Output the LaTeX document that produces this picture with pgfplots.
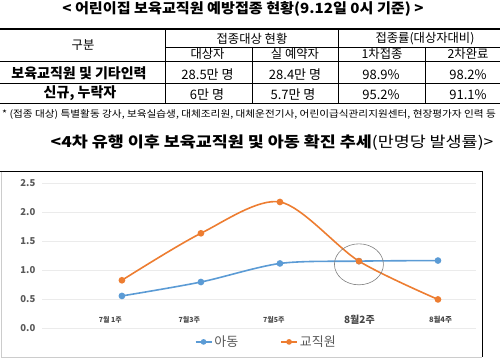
\documentclass[border=0pt]{standalone}
\usepackage{pgfplots}
\pgfplotsset{compat=1.18}
\usepackage{fontspec}
\setmainfont{Noto Sans CJK KR}
\definecolor{cblue}{HTML}{5B9BD5}
\definecolor{corange}{HTML}{ED7D31}
\definecolor{tgray}{HTML}{595959}
\begin{document}
\begin{tikzpicture}[x=1pt,y=1pt]
\useasboundingbox (0,0) rectangle (500,358);
% title
\node[font=\fontsize{14}{14}\selectfont\bfseries] at (243,349) {\scalebox{1.08}[1]{< 어린이집 보육교직원 예방접종 현황(9.12일 0시 기준) >}};
% table lines
\draw[line width=1.5pt] (0,329) -- (500,329);
\draw[line width=0.6pt] (165,311) -- (500,311);
\draw[line width=1pt] (0,296) -- (500,296);
\draw[line width=0.6pt] (0,274.5) -- (500,274.5);
\draw[line width=1.5pt] (0,254.5) -- (500,254.5);
\draw[line width=0.8pt] (165,329) -- (165,254.5);
\draw[line width=0.6pt] (338,329) -- (338,254.5);
\draw[line width=0.6pt] (252,311) -- (252,254.5);
\draw[line width=0.6pt] (425,311) -- (425,254.5);
% header
\begin{scope}[every node/.style={font=\fontsize{12.3}{12.3}\selectfont}]
\node at (83,312.5) {구분};
\node at (252,319.5) {접종대상 현황};
\node at (425,319.5) {접종률(대상자대비)};
\node at (207.5,304) {대상자};
\node at (295,304) {실 예약자};
\node at (382,304) {1차접종};
\node at (468,304) {2차완료};
\end{scope}
\node[font=\fontsize{14}{14}\selectfont\bfseries] at (79,284.5) {보육교직원 및 기타인력};
\node[font=\fontsize{14}{14}\selectfont\bfseries] at (80,264.5) {신규, 누락자};
\begin{scope}[every node/.style={font=\fontsize{13}{13}\selectfont}]
\node at (207.5,283.5) {28.5만 명};
\node at (295,283.5) {28.4만 명};
\node at (381,283.5) {98.9\%};
\node at (468,283.5) {98.2\%};
\node at (207,263.5) {6만 명};
\node at (293,263.5) {5.7만 명};
\node at (381,263.5) {95.2\%};
\node at (468,263.5) {91.1\%};
\end{scope}
% footnote
\node[font=\fontsize{9.5}{9.5}\selectfont] at (249,244) {\scalebox{1.12}[1]{* (접종 대상) 특별활동 강사, 보육실습생, 대체조리원, 대체운전기사, 어린이급식관리지원센터, 현장평가자 인력 등}};
% chart title
\node[font=\fontsize{15}{15}\selectfont] at (272,215) {\scalebox{1.16}[1]{\textbf{<4차 유행 이후 보육교직원 및 아동 확진 추세}(만명당 발생률)>}};
% chart frame
\draw[gray!40, line width=0.6pt] (1,187) -- (1,1) -- (482,1);
\draw[black, line width=0.9pt] (0,187) -- (482,187) -- (482,1);
\begin{axis}[at={(53,52)}, anchor=south west, scale only axis,
  width=434pt, height=145pt,
  xmin=-1.013, xmax=4.48, ymin=0, ymax=2.5,
  axis line style={draw=none}, major tick length=0pt,
  ytick={0,0.5,1,1.5,2,2.5},
  ymajorgrids, grid style={color=gray!16, line width=0.6pt},
  yticklabel style={/pgf/number format/.cd, fixed, fixed zerofill, precision=1, assume math mode=true, /tikz/.cd, font=\fontsize{9.5}{9.5}\selectfont\bfseries, text=tgray, anchor=east, xshift=-3pt},
  xtick={-0.146,0.854,1.924,3.006,4.032},
  xticklabels={{\fontsize{7}{7}\selectfont 7월 1주},{\fontsize{7}{7}\selectfont 7월3주},{\fontsize{7}{7}\selectfont 7월5주},{\fontsize{10}{10}\selectfont 8월2주},{\fontsize{7.5}{7.5}\selectfont 8월4주}},
  xticklabel style={font=\bfseries, text=tgray!80!black, anchor=center, yshift=8pt},
  legend style={at={(0.517,-0.097)}, anchor=center, legend columns=2, draw=none, fill=none, font=\fontsize{13}{13}\selectfont, text=tgray, /tikz/every even column/.append style={column sep=40pt}},
  legend image code/.code={\draw[mark repeat=2,mark phase=2,mark size=2pt] plot coordinates {(0pt,0pt) (8pt,0pt) (16pt,0pt)};},
]
\addplot[cblue, line width=1.6pt, smooth, mark=*, mark size=2.5pt, mark options={solid}] coordinates {(0,0.55) (1,0.79) (2,1.11) (3,1.15) (4,1.16)};
\addplot[corange, line width=1.6pt, smooth, mark=*, mark size=2.5pt, mark options={solid}] coordinates {(0,0.82) (1,1.63) (2,2.17) (3,1.15) (4,0.49)};
\legend{아동, 교직원}
\draw[gray, line width=0.6pt] (axis cs:3,1.095) ellipse [x radius=24.5pt, y radius=20.5pt];
\end{axis}
\end{tikzpicture}
\end{document}
